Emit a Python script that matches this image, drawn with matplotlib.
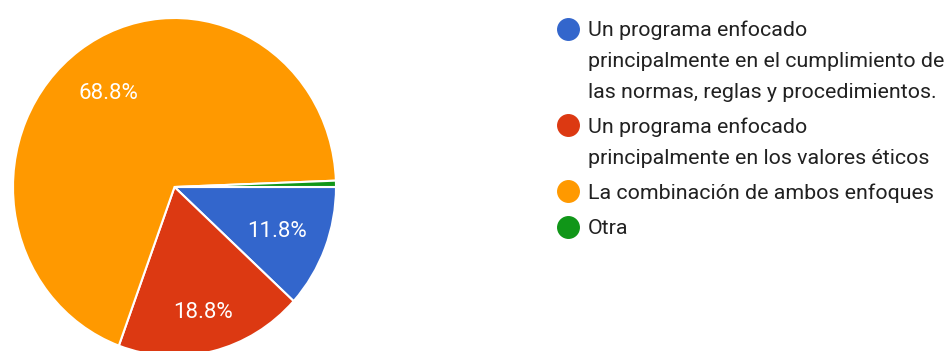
import numpy as np
import matplotlib
matplotlib.use("Agg")
import matplotlib.pyplot as plt

plt.rcParams['font.family'] = ['Roboto', 'DejaVu Sans']

# respuestas (%)
categorias = [
    "Un programa enfocado\nprincipalmente en el cumplimiento de\nlas normas, reglas y procedimientos.",
    "Un programa enfocado\nprincipalmente en los valores éticos",
    "La combinación de ambos enfoques",
    "Otra",
]
porcentajes = [11.8, 18.8, 68.8, 0.6]
colores = ["#3366CC", "#DC3912", "#FF9900", "#109618"]

W, H = 948, 351
fig = plt.figure(figsize=(W / 100, H / 100), dpi=100)

# ejes del pastel en píxeles: centro (174.5, 187), radios 161.5 x 169
cx, cy, rx, ry = 174.5, 187, 161.5, 169
ax = fig.add_axes([(cx - rx) / W, (H - cy - ry) / H, 2 * rx / W, 2 * ry / H])

wedges, textos, autotextos = ax.pie(
    porcentajes,
    colors=colores,
    startangle=0,
    counterclock=False,
    autopct=lambda p: f"{p:.1f}%" if p > 5 else "",
    wedgeprops=dict(edgecolor="white", linewidth=1.5),
    textprops=dict(color="white", fontsize=16),
)

# distancia radial de cada etiqueta
ajuste = [0.68, 0.75, 0.70, 0.7]
for t, w, k in zip(autotextos, wedges, ajuste):
    ang = np.deg2rad((w.theta1 + w.theta2) / 2)
    t.set_position((k * np.cos(ang), k * np.sin(ang)))
    t.set_va("center_baseline")

ax.set_xlim(-1, 1)
ax.set_ylim(-1, 1)
ax.set_aspect("auto")
ax.axis("off")

# leyenda en coordenadas de píxel
lg = fig.add_axes([0, 0, 1, 1])
lg.set_xlim(0, W)
lg.set_ylim(H, 0)
lg.axis("off")

base = 36.5
for texto, color in zip(categorias, colores):
    lg.plot(568, base - 8, "o", color=color, markersize=15.5)
    for linea in texto.split("\n"):
        lg.text(588, base, linea, va="baseline", ha="left", fontsize=15.4,
                color="#212121")
        base += 30.5
    base += 5

fig.savefig("out.png", dpi=100)
